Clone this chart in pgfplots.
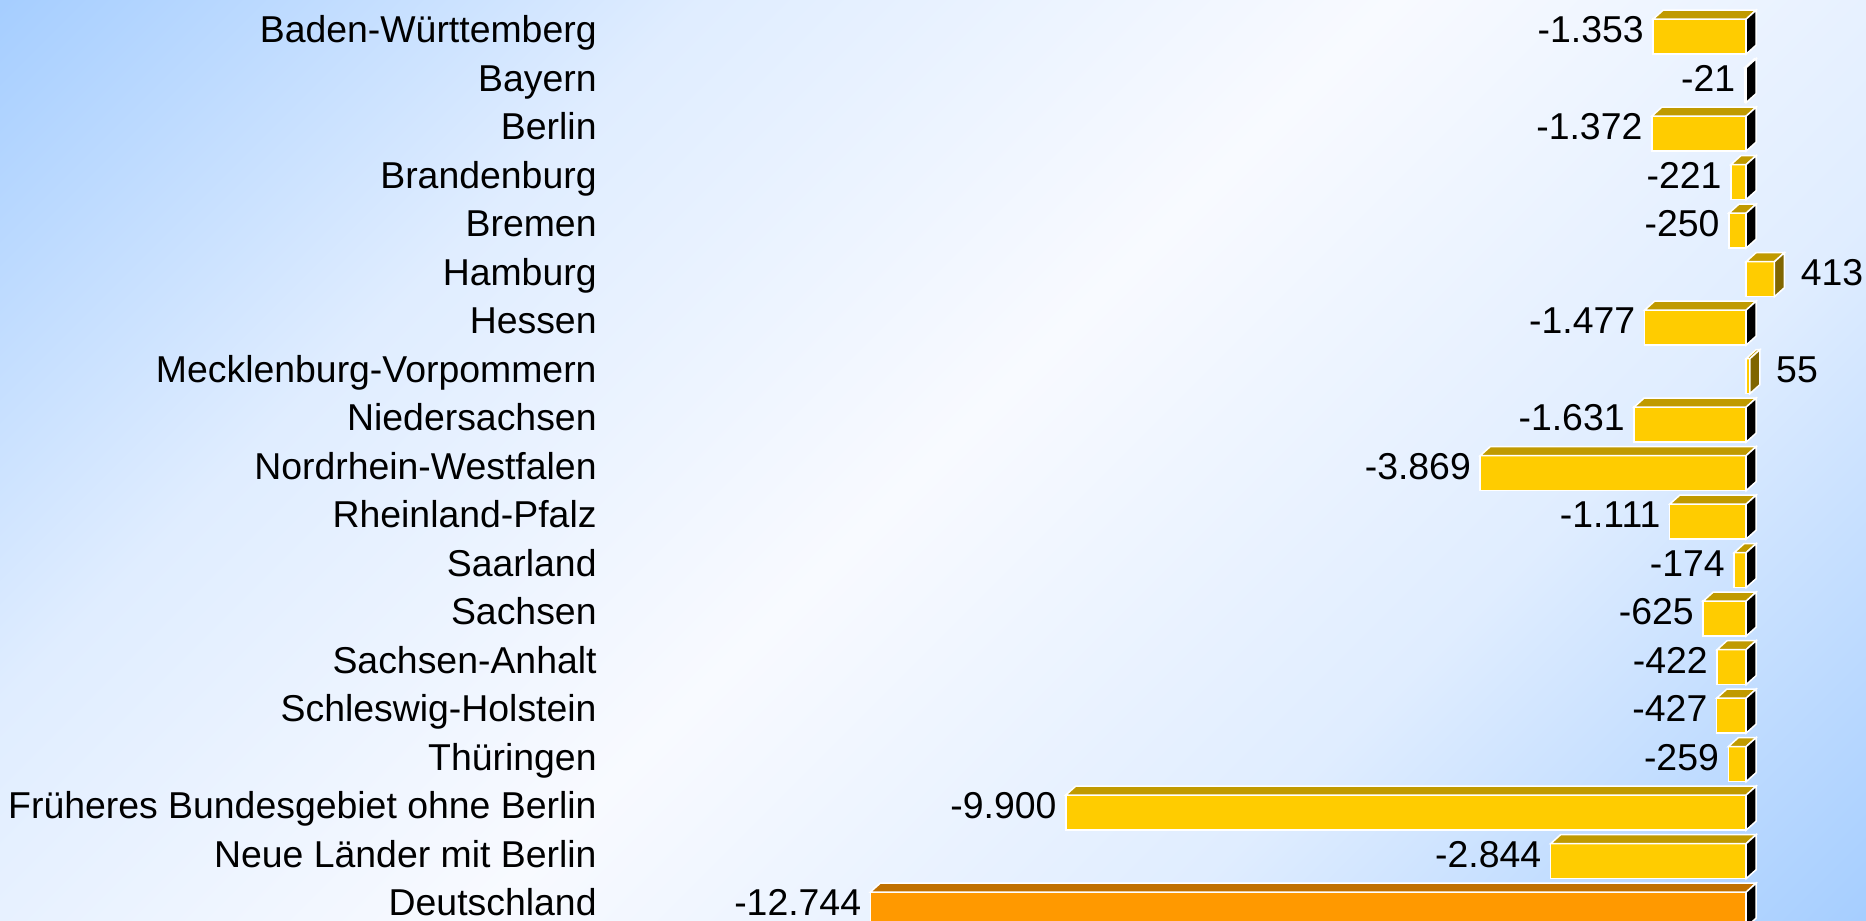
\documentclass[border=0pt]{standalone}
\usepackage{pgfplots}
\pgfplotsset{compat=1.18}
\usepackage{pgfplotstable}
\usepackage{fontspec}
\setmainfont{Liberation Sans}

\definecolor{frontY}{RGB}{255,204,0}
\definecolor{topY}{RGB}{192,154,0}
\definecolor{sidePos}{RGB}{128,102,0}
\definecolor{frontO}{RGB}{255,153,0}
\definecolor{topO}{RGB}{192,112,0}
\definecolor{bgBlue}{RGB}{166,206,255}
\definecolor{bgWhite}{RGB}{248,250,255}
\colorlet{bgMid}{bgBlue!30!bgWhite}

\pgfdeclareverticalshading{bgshade}{100bp}{color(0bp)=(bgBlue); color(14.6bp)=(bgBlue); color(32.3bp)=(bgMid); color(50bp)=(bgWhite); color(67.7bp)=(bgMid); color(85.4bp)=(bgBlue); color(100bp)=(bgBlue)}

% 3D faces drawn at the right end of each bar's front face
\pgfdeclareplotmark{topface}{%
  \pgfmathsetmacro\Lneg{-abs(\rawval)*0.03437}%
  \pgfmathsetmacro\Lsh{\Lneg+5}%
  \pgfpathmoveto{\pgfpoint{\Lneg bp}{8.75bp}}%
  \pgfpathlineto{\pgfpoint{0bp}{8.75bp}}%
  \pgfpathlineto{\pgfpoint{5bp}{13.25bp}}%
  \pgfpathlineto{\pgfpoint{\Lsh bp}{13.25bp}}%
  \pgfpathclose
  \pgfusepathqfillstroke
}
\pgfdeclareplotmark{sideface}{%
  \pgfpathmoveto{\pgfpoint{0bp}{-8.75bp}}%
  \pgfpathlineto{\pgfpoint{0bp}{8.75bp}}%
  \pgfpathlineto{\pgfpoint{5bp}{13.25bp}}%
  \pgfpathlineto{\pgfpoint{5bp}{-4.25bp}}%
  \pgfpathclose
  \pgfusepathqfillstroke
}

\pgfplotstableread{
idx val lab
0 -1353 -1.353
1 -21 -21
2 -1372 -1.372
3 -221 -221
4 -250 -250
6 -1477 -1.477
8 -1631 -1.631
9 -3869 -3.869
10 -1111 -1.111
11 -174 -174
12 -625 -625
13 -422 -422
14 -427 -427
15 -259 -259
16 -9900 -9.900
17 -2844 -2.844
}\negdata
\pgfplotstableread{
idx val lab
5 413 413
7 55 55
}\posdata
\pgfplotstableread{
idx val lab
18 -12744 -12.744
}\totdata

\newcommand{\lbl}{\fontsize{18.7bp}{22bp}\selectfont}

\begin{document}
\begin{tikzpicture}
\useasboundingbox (0,0) rectangle (933bp,460.5bp);
\clip (0,0) rectangle (933bp,460.5bp);
\shade[shading=bgshade, shading angle=45] (0,0) rectangle (933bp,460.5bp);
\begin{axis}[
  at={(298.5bp,460.5bp)}, anchor=north west,
  x=0.03437bp, y=24.25bp, y dir=reverse,
  xmin=-16725, xmax=1735.5,
  ymin=-0.7567, ymax=18.233,
  axis line style={draw=none},
  major tick length=0pt,
  xtick=\empty,
  ytick={0,...,18},
  yticklabels={Baden-Württemberg, Bayern, Berlin, Brandenburg, Bremen, Hamburg, Hessen, Mecklenburg-Vorpommern, Niedersachsen, Nordrhein-Westfalen, Rheinland-Pfalz, Saarland, Sachsen, Sachsen-Anhalt, Schleswig-Holstein, Thüringen, Früheres Bundesgebiet ohne Berlin, Neue Länder mit Berlin, Deutschland},
  yticklabel style={anchor=base east, inner sep=0pt, yshift=-3bp, font=\lbl},
  clip=false,
]
% negative yellow bars
\addplot[xbar, bar width=17.5bp, fill=frontY, draw=white, line width=0.75bp] table[x=val,y=idx]{\negdata};
\addplot[only marks, mark=topface, mark options={fill=topY, draw=white, line width=0.75bp},
  visualization depends on={\thisrow{val} \as \rawval}] table[x expr=0,y=idx]{\negdata};
\addplot[only marks, mark=sideface, mark options={fill=black, draw=white, line width=0.75bp}] table[x expr=0,y=idx]{\negdata};
\addplot[draw=none, mark=none, nodes near coords, point meta=explicit symbolic,
  nodes near coords style={anchor=base east, inner sep=0pt, xshift=-4.5bp, yshift=-3bp, font=\lbl, text=black}]
  table[x=val,y=idx,meta=lab]{\negdata};
% positive yellow bars
\addplot[xbar, bar width=17.5bp, fill=frontY, draw=white, line width=0.75bp] table[x=val,y=idx]{\posdata};
\addplot[only marks, mark=topface, mark options={fill=topY, draw=white, line width=0.75bp},
  visualization depends on={\thisrow{val} \as \rawval}] table[x=val,y=idx]{\posdata};
\addplot[only marks, mark=sideface, mark options={fill=sidePos, draw=white, line width=0.75bp}] table[x=val,y=idx]{\posdata};
\addplot[draw=none, mark=none, nodes near coords, point meta=explicit symbolic,
  nodes near coords style={anchor=base west, inner sep=0pt, xshift=13bp, yshift=-3bp, font=\lbl, text=black}]
  table[x=val,y=idx,meta=lab]{\posdata};
% Deutschland (orange)
\addplot[xbar, bar width=17.5bp, fill=frontO, draw=white, line width=0.75bp] table[x=val,y=idx]{\totdata};
\addplot[only marks, mark=topface, mark options={fill=topO, draw=white, line width=0.75bp},
  visualization depends on={\thisrow{val} \as \rawval}] table[x expr=0,y=idx]{\totdata};
\addplot[only marks, mark=sideface, mark options={fill=black, draw=white, line width=0.75bp}] table[x expr=0,y=idx]{\totdata};
\addplot[draw=none, mark=none, nodes near coords, point meta=explicit symbolic,
  nodes near coords style={anchor=base east, inner sep=0pt, xshift=-4.5bp, yshift=-3bp, font=\lbl, text=black}]
  table[x=val,y=idx,meta=lab]{\totdata};
\end{axis}
\end{tikzpicture}
\end{document}
